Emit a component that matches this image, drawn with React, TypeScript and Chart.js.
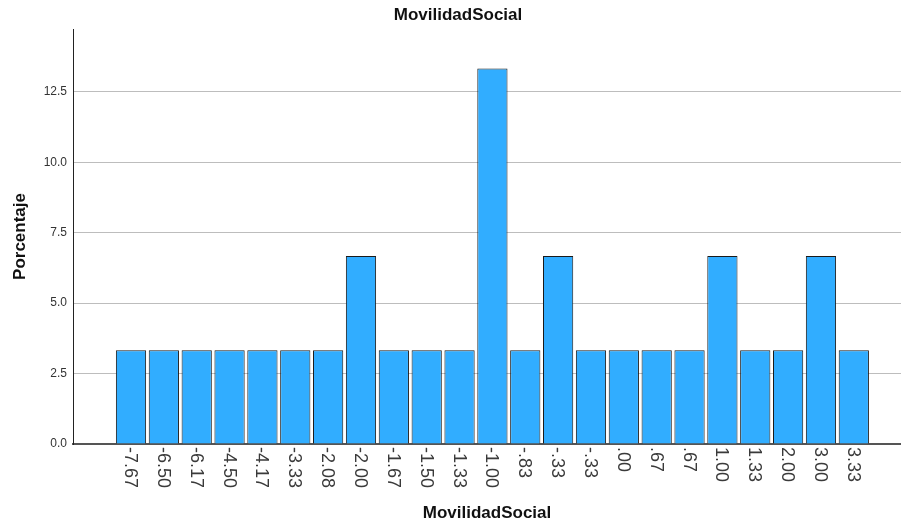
import React, { useEffect, useRef } from "react";
import { Chart, registerables } from "chart.js";

Chart.register(...registerables);

const categories: string[] = [
  "-7.67", "-6.50", "-6.17", "-4.50", "-4.17", "-3.33", "-2.08", "-2.00",
  "-1.67", "-1.50", "-1.33", "-1.00", "-.83", "-.33", "-.33", ".00",
  ".67", ".67", "1.00", "1.33", "2.00", "3.00", "3.33",
];

const percentages: number[] = [
  3.33, 3.33, 3.33, 3.33, 3.33, 3.33, 3.33, 6.67,
  3.33, 3.33, 3.33, 13.33, 3.33, 6.67, 3.33, 3.33,
  3.33, 3.33, 6.67, 3.33, 3.33, 6.67, 3.33,
];

const yTickStep = 2.5;
const yMax = 14.73;

const FONT = "'Liberation Sans', Arial, sans-serif";

const xLabelsPlugin = {
  id: "xLabelsRotated",
  afterDraw(chart: any) {
    const xs = chart.scales.x;
    const ctx = chart.ctx;
    const top = chart.chartArea.bottom + 3;
    ctx.save();
    ctx.font = `18px ${FONT}`;
    ctx.fillStyle = "#3a3a3a";
    ctx.textAlign = "left";
    ctx.textBaseline = "middle";
    categories.forEach((lab, i) => {
      const px = xs.getPixelForValue(i);
      ctx.save();
      ctx.translate(px - 1, top);
      ctx.rotate(Math.PI / 2);
      ctx.fillText(lab, 0, 0);
      ctx.restore();
    });
    ctx.restore();
  },
};

export default function App() {
  const ref = useRef<HTMLCanvasElement | null>(null);

  useEffect(() => {
    if (!ref.current) return;
    Chart.defaults.font.family = FONT;
    const chart = new Chart(ref.current, {
      type: "bar",
      data: {
        datasets: [
          {
            label: "Porcentaje",
            data: percentages.map((v, i) => ({ x: i, y: v })),
            backgroundColor: "#31adff",
            borderColor: "#1a1a1a",
            borderWidth: 1,
            barPercentage: 0.92,
            categoryPercentage: 1,
          },
        ],
      },
      options: {
        animation: false,
        responsive: false,
        maintainAspectRatio: false,
        layout: { padding: { left: 15, right: 0, top: 0, bottom: 0 } },
        plugins: {
          legend: { display: false },
          tooltip: { enabled: false },
          title: {
            display: true,
            text: "MovilidadSocial",
            color: "#111",
            font: { size: 17, weight: "bold", family: FONT },
            padding: { top: 5, bottom: 3.6 },
          },
        },
        scales: {
          x: {
            type: "linear",
            offset: false,
            min: -1.7653,
            max: 23.436,
            grid: { display: false, offset: false },
            border: { display: true, color: "#555", width: 2 },
            ticks: { display: false },
            title: {
              display: true,
              text: "MovilidadSocial",
              color: "#111",
              font: { size: 17, weight: "bold", family: FONT },
              padding: { top: 0, bottom: 1 },
            },
            afterFit: (scale: any) => {
              scale.height = 81;
            },
          },
          y: {
            type: "linear",
            min: 0,
            max: yMax,
            grid: { color: "#bdbdbd", drawTicks: false, lineWidth: 1 },
            border: { display: true, color: "#222", width: 1 },
            ticks: {
              stepSize: yTickStep,
              includeBounds: false,
              padding: 6,
              color: "#333",
              font: { size: 12, family: FONT },
              callback: (v: any) => Number(v).toFixed(1),
            },
            title: {
              display: true,
              text: "Porcentaje",
              color: "#111",
              font: { size: 17, weight: "bold", family: FONT, lineHeight: 0.65 },
              padding: { top: 0, bottom: 0 },
            },
            afterFit: (scale: any) => {
              scale.width = 58;
            },
          },
        },
      },
      plugins: [xLabelsPlugin],
    } as any);
    return () => chart.destroy();
  }, []);

  return (
    <div style={{ position: "absolute", left: 0, top: 0, width: 901, height: 525, background: "#fff" }}>
      <canvas ref={ref} width={901} height={525} style={{ width: 901, height: 525, display: "block" }} />
    </div>
  );
}
